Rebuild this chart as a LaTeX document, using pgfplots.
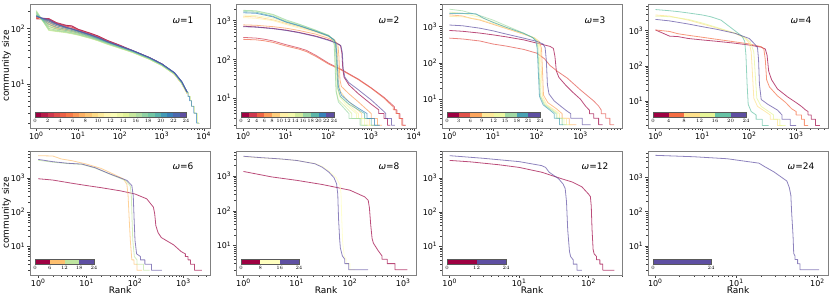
\documentclass[border=0pt]{standalone}
\usepackage{fontspec}
\setmainfont{DejaVu Sans}
\usepackage{pgfplots}
\pgfplotsset{compat=1.18}
\usepackage{pgfplotstable}

\definecolor{s0}{HTML}{9E0142}
\definecolor{s1}{HTML}{D53E4F}
\definecolor{s2}{HTML}{F46D43}
\definecolor{s3}{HTML}{FDAE61}
\definecolor{s4}{HTML}{FEE08B}
\definecolor{s5}{HTML}{FFFFBF}
\definecolor{s6}{HTML}{E6F598}
\definecolor{s7}{HTML}{ABDDA4}
\definecolor{s8}{HTML}{66C2A5}
\definecolor{s9}{HTML}{3288BD}
\definecolor{s10}{HTML}{5E4FA2}
\newcommand{\spcol}[2]{%
  \pgfmathsetmacro{\sppos}{#2}%
  \pgfmathtruncatemacro{\spk}{min(floor(\sppos),9)}%
  \pgfmathtruncatemacro{\spkk}{\spk+1}%
  \pgfmathsetmacro{\spf}{(\sppos-\spk)*100}%
  \colorlet{#1}{s\spkk!\spf!s\spk}}
\pgfplotsforeachungrouped \i in {0,...,23} {\spcol{a\i}{10*\i/23}}
\pgfplotsforeachungrouped \i in {0,...,11} {\spcol{b\i}{10*\i/11}}
\pgfplotsforeachungrouped \i in {0,...,7} {\spcol{c\i}{10*\i/7}}
\pgfplotsforeachungrouped \i in {0,...,5} {\spcol{d\i}{10*\i/5}}
\pgfplotsforeachungrouped \i in {0,...,3} {\spcol{e\i}{10*\i/3}}
\pgfplotsforeachungrouped \i in {0,...,2} {\spcol{f\i}{10*\i/2}}
\colorlet{g0}{s0}\colorlet{g1}{s10}\colorlet{h0}{s10}

\newcommand{\seg}[3]{\addplot[fill=#1, draw=none] coordinates {(#2,1) (#3,1)} \closedcycle;}

\newcommand{\mainaxis}[1]{\begin{axis}[scale only axis, width=180pt, height=124pt,
    xmode=log, ymode=log, anchor=south west,
    axis line style={gray}, tick align=outside, xtick pos=bottom, ytick pos=left,
    major tick length=3pt, minor tick length=1.8pt,
    tick style={gray!50!black, line width=0.4pt},
    xticklabel style={font=\fontsize{8}{9}\selectfont, inner sep=1pt},
    yticklabel style={font=\fontsize{8}{9}\selectfont, inner sep=1.5pt},
    xlabel style={font=\fontsize{9}{10}\selectfont, inner sep=1pt},
    ylabel style={font=\fontsize{9}{10}\selectfont},
    xlabel shift=-2pt, ylabel shift=-5pt,
    #1]}
\newcommand{\cbaxis}[1]{\begin{axis}[scale only axis, height=5pt,
    xmin=0, xmax=24, ymin=0, ymax=1,
    ytick=\empty, anchor=south west, xtick pos=bottom,
    tick align=outside, major tick length=1pt, minor tick num=0,
    xticklabel style={font=\fontsize{3.5}{4}\selectfont, inner sep=0.6pt},
    axis line style={gray!70!black, line width=0.3pt},
    tick style={gray, line width=0.2pt}, axis on top, #1]}
\tikzset{myom/.style={font=\fontsize{9}{10}\selectfont},
  myln/.style={line width=0.8pt, opacity=0.7, line join=round}}

\pgfplotstableread{
r y0 y1 y2 y3 y4 y5 y6 y7 y8 y9 y10 y11 y12 y13 y14 y15 y16 y17 y18 y19 y20 y21 y22 y23
1 155 150 148 152 158 160 162 165 170 175 180 185 190 195 200 210 205 195 185 175 170 168 165 162
2 150 146 150 145 140 135 128 122 118 112 108 104 100 96 93 92 95 100 108 118 128 135 140 145
3 128 124 126 122 118 112 106 102 100 97 95 93 91 90 89 88 90 93 98 105 112 118 120 122
5 115 113 110 108 104 100 96 93 91 90 89 88 87 86 85 84 86 88 92 97 102 104 105 106
7 110 112 106 105 100 96 92 89 87 86 85 84 83 82 81 80 82 84 88 92 96 98 98 99
10 96 97 94 92 90 88 85 83 81 80 79 78 78 77 76 76 77 79 82 85 88 90 90 91
20 81 82 79 78 77 75 72 71 70 69 68 68 67 67 66 66 67 68 70 72 74 76 76 77
30 73 73 71 70 69 67 65 64 63 62 62 61 61 60 60 60 61 62 63 65 66 68 68 69
50 61 60 60 59 58 57 56 55 55 54 54 53 53 52 52 52 53 54 55 56 57 58 58 58
100 50 49 49 48 48 47 46 46 45.5 45 45 45 44.5 44 44 44 44.5 45 46 47 47.5 48 48 48
200 40 40 39 39 39 38.5 38 38 37.5 37.5 37.5 37 37 37 37 37 37.5 38 38.5 39 39.5 40 40 40
500 30 30 29.5 29.5 29 29 28.5 28.5 28.3 28.2 28.2 28.1 28 28 28 28 28.3 28.6 29 29.5 29.8 30 30 30
1000 23 23 22.5 22.6 22.4 22.2 22 22 21.9 21.8 21.8 21.7 21.6 21.5 21.5 21.5 21.7 22 22.3 22.6 22.8 23 23 23
2000 15.5 15.4 15.3 15.2 15.2 15.1 15 15 15 15 15 15 15 15 15 15 15.2 15.4 15.6 15.8 15.9 16 16 16
3000 10.5 10.4 10.4 10.3 10.3 10.2 10.2 10.2 10.2 10.2 10.2 10.2 10.2 10.3 10.3 10.3 10.4 10.5 10.6 10.8 10.9 11 11 11
4000 7 7 7 6.9 6.9 6.9 6.8 6.8 6.8 6.8 6.8 6.9 6.9 7 7 7 7 7.1 7.1 7.2 7.2 7.2 7.2 7.2
}\tabA

\begin{document}
\begin{tikzpicture}
\useasboundingbox (0,0) rectangle (831pt,299pt);

% ---------------- omega = 1
\mainaxis{name=p1, at={(30pt,171pt)}, xmin=0.708, xmax=14125, ymin=1.62, ymax=275,
  xtick={1,10,100,1000,10000}, xticklabels={10\textsuperscript{0},10\textsuperscript{1},10\textsuperscript{2},10\textsuperscript{3},10\textsuperscript{4}},
  ytick={10,100}, yticklabels={10\textsuperscript{1},10\textsuperscript{2}},
  minor xtick={2,3,4,5,6,7,8,9,20,30,40,50,60,70,80,90,200,300,400,500,600,700,800,900,2000,3000,4000,5000,6000,7000,8000,9000},
  minor ytick={2,3,4,5,6,7,8,9,20,30,40,50,60,70,80,90,200},
  ylabel={community size}}
\pgfplotsinvokeforeach{0,...,23}{\addplot[myln, color=a#1] table[x=r, y=y#1]{\tabA};}
\addplot[myln, color=a14] coordinates {(4000,7)(4300,7)(4300,6)(4700,6)(4700,5)(5200,5)(5200,4)(6000,4)(6000,3)(6900,3)(6900,2)(8000,2)};
\addplot[myln, color=a21] coordinates {(4000,7.2)(4200,7)(4200,6)(4600,6)(4600,5)(5100,5)(5100,4)(5800,4)(5800,3)(6700,3)(6700,2)(7700,2)};
\node[myom] at (rel axis cs:0.85,0.87) {\textit{ω}=1};
\end{axis}
\cbaxis{at={(p1.south west)}, xshift=5pt, yshift=11pt, width=151pt, xtick={0,2,...,24}}
\seg{a0}{0}{1}\seg{a1}{1}{2}\seg{a2}{2}{3}\seg{a3}{3}{4}\seg{a4}{4}{5}\seg{a5}{5}{6}
\seg{a6}{6}{7}\seg{a7}{7}{8}\seg{a8}{8}{9}\seg{a9}{9}{10}\seg{a10}{10}{11}\seg{a11}{11}{12}
\seg{a12}{12}{13}\seg{a13}{13}{14}\seg{a14}{14}{15}\seg{a15}{15}{16}\seg{a16}{16}{17}\seg{a17}{17}{18}
\seg{a18}{18}{19}\seg{a19}{19}{20}\seg{a20}{20}{21}\seg{a21}{21}{22}\seg{a22}{22}{23}\seg{a23}{23}{24}
\end{axis}

% ---------------- omega = 2
\mainaxis{name=p2, at={(236pt,171pt)}, xmin=0.676, xmax=11220, ymin=1.70, ymax=2692,
  xtick={1,10,100,1000,10000}, xticklabels={10\textsuperscript{0},10\textsuperscript{1},10\textsuperscript{2},10\textsuperscript{3},10\textsuperscript{4}},
  ytick={10,100,1000}, yticklabels={10\textsuperscript{1},10\textsuperscript{2},10\textsuperscript{3}},
  minor xtick={2,3,4,5,6,7,8,9,20,30,40,50,60,70,80,90,200,300,400,500,600,700,800,900,2000,3000,4000,5000,6000,7000,8000,9000},
  minor ytick={2,3,4,5,6,7,8,9,20,30,40,50,60,70,80,90,200,300,400,500,600,700,800,900,2000}}
\addplot[myln, color=b0] coordinates {(1,720)(2,690)(5,630)(10,570)(20,500)(50,400)(100,320)(150,270)(190,230)(205,150)(215,60)(230,35)(300,22)(500,13)(1000,7)(1500,5)(1500,4)(2000,4)(2000,3)(2400,3)(2400,2)(2800,2)};
\addplot[myln, color=b1] coordinates {(1,370)(2,355)(3,335)(5,300)(10,240)(20,198)(30,172)(50,128)(100,80)(200,55)(500,31)(1000,18.5)(2000,10.5)(3000,7)(3500,6)(3500,5)(4000,5)(4000,4)(4700,4)(4700,3)(5500,3)(5500,2)(6500,2)};
\addplot[myln, color=b2] coordinates {(1,330)(2,320)(3,305)(5,275)(10,222)(20,185)(30,160)(50,120)(100,76)(200,53)(500,30)(1000,18)(2000,10)(3000,6.5)(3300,6)(3300,5)(3800,5)(3800,4)(4500,4)(4500,3)(5200,3)(5200,2)(6200,2)};
\addplot[myln, color=b3] coordinates {(1,780)(2,760)(5,700)(10,640)(20,560)(50,450)(100,350)(140,300)(165,250)(175,120)(185,30)(200,20)(300,13)(500,8)(800,5)(1000,4)(1000,3)(1400,3)(1400,2)(1800,2)};
\addplot[myln, color=b4] coordinates {(1,1300)(2,1250)(5,1050)(10,850)(20,700)(50,520)(100,400)(140,320)(155,250)(165,100)(175,25)(190,15)(250,10)(400,6)(600,4)(600,3)(900,3)(900,2)(1300,2)};
\addplot[myln, color=b5] coordinates {(1,1200)(2,1150)(5,1000)(10,800)(20,650)(50,500)(100,390)(130,320)(145,250)(155,80)(165,20)(180,12)(250,8)(400,5)(500,4)(500,3)(800,3)(800,2)(1200,2)};
\addplot[myln, color=b6] coordinates {(1,1400)(2,1350)(5,1150)(10,900)(20,720)(50,540)(100,410)(130,330)(145,250)(152,80)(160,18)(180,11)(250,7)(350,5)(450,4)(450,3)(700,3)(700,2)(1000,2)};
\addplot[myln, color=b7] coordinates {(1,1800)(2,1750)(5,1400)(10,1000)(20,800)(50,560)(100,420)(125,330)(138,250)(145,70)(152,15)(170,9)(250,6)(350,4)(350,3)(600,3)(600,2)(850,2)};
\addplot[myln, color=b8] coordinates {(1,1850)(2,1800)(5,1450)(10,1050)(20,820)(50,570)(100,420)(122,330)(135,250)(142,70)(150,15)(170,8)(250,5)(300,4)(300,3)(550,3)(550,2)(800,2)};
\addplot[myln, color=b9] coordinates {(1,1700)(2,1650)(5,1300)(10,950)(20,760)(50,540)(100,410)(130,330)(145,250)(155,70)(165,18)(190,11)(300,7)(500,5)(700,4)(700,3)(1000,3)(1000,2)(1500,2)};
\addplot[myln, color=b10] coordinates {(1,1600)(2,1550)(5,1250)(10,920)(20,740)(50,530)(100,400)(135,320)(150,250)(160,80)(170,20)(200,12)(300,8)(500,5.5)(800,4)(800,3)(1200,3)(1200,2)(1600,2)};
\addplot[myln, color=b11] coordinates {(1,700)(2,680)(5,620)(10,560)(20,490)(50,390)(100,310)(150,265)(195,225)(210,150)(220,60)(240,35)(300,25)(450,18)(1000,9)(1500,6)(2000,4.5)(2200,4)(2200,3)(3000,3)(3000,2)(3600,2)};
\node[myom] at (rel axis cs:0.85,0.87) {\textit{ω}=2};
\end{axis}
\cbaxis{at={(p2.south west)}, xshift=5pt, yshift=11pt, width=93pt, xtick={0,2,...,24}}
\seg{b0}{0}{2}\seg{b1}{2}{4}\seg{b2}{4}{6}\seg{b3}{6}{8}\seg{b4}{8}{10}\seg{b5}{10}{12}
\seg{b6}{12}{14}\seg{b7}{14}{16}\seg{b8}{16}{18}\seg{b9}{18}{20}\seg{b10}{20}{22}\seg{b11}{22}{24}
\end{axis}

% ---------------- omega = 3
\mainaxis{name=p3, at={(442pt,171pt)}, xmin=0.676, xmax=8913, ymin=1.62, ymax=4169,
  xtick={1,10,100,1000}, xticklabels={10\textsuperscript{0},10\textsuperscript{1},10\textsuperscript{2},10\textsuperscript{3}},
  ytick={10,100,1000}, yticklabels={10\textsuperscript{1},10\textsuperscript{2},10\textsuperscript{3}},
  minor xtick={2,3,4,5,6,7,8,9,20,30,40,50,60,70,80,90,200,300,400,500,600,700,800,900,2000,3000,4000,5000,6000,7000,8000},
  minor ytick={2,3,4,5,6,7,8,9,20,30,40,50,60,70,80,90,200,300,400,500,600,700,800,900,2000,3000,4000}}
\addplot[myln, color=c0] coordinates {(1,780)(2,740)(5,660)(10,590)(20,520)(50,430)(100,350)(200,285)(240,250)(260,150)(280,60)(320,40)(450,25)(650,16)(1000,10)(1300,6.5)(1600,5)(1600,4)(2000,4)(2000,3)(2600,3)(2600,2)(3200,2)};
\addplot[myln, color=c1] coordinates {(1,480)(2,455)(5,400)(10,330)(20,290)(50,235)(100,185)(150,130)(200,85)(300,58)(500,38)(1000,18)(2000,9)(2600,6.5)(3000,5)(3000,4)(3800,4)(3800,3)(4700,3)(4700,2)(5900,2)};
\addplot[myln, color=c2] coordinates {(1,2100)(2,1950)(3,1700)(5,1500)(10,1150)(20,880)(50,620)(90,480)(115,380)(128,250)(135,60)(142,13)(180,8)(280,5.5)(380,4)(380,3)(550,3)(550,2)(800,2)};
\addplot[myln, color=c3] coordinates {(1,1900)(2,1850)(5,1550)(10,1200)(20,900)(50,620)(90,480)(110,380)(120,250)(127,60)(135,12)(170,7)(260,5)(330,4)(330,3)(480,3)(480,2)(650,2)};
\addplot[myln, color=c4] coordinates {(1,2500)(2,2300)(5,1800)(10,1350)(20,950)(50,640)(85,500)(105,400)(112,250)(118,60)(125,12)(160,7)(240,5)(300,4)(300,3)(420,3)(420,2)(550,2)};
\addplot[myln, color=c5] coordinates {(1,3000)(2,2700)(5,2000)(10,1500)(20,1050)(50,660)(80,500)(100,400)(106,250)(112,60)(120,12)(150,7)(220,5)(280,4)(280,3)(380,3)(380,2)(480,2)};
\addplot[myln, color=c6] coordinates {(1,2300)(2,2300)(4,2250)(6,1700)(10,1300)(20,950)(50,650)(80,500)(95,400)(102,250)(108,60)(115,12)(140,7)(200,5)(250,4)(250,3)(330,3)(330,2)(400,2)};
\addplot[myln, color=c7] coordinates {(1,1100)(2,1050)(5,900)(10,760)(20,620)(50,480)(100,390)(140,330)(155,260)(165,120)(175,25)(190,14)(250,9)(350,6.5)(460,5)(600,4)(600,3)(1100,3)(1100,2)(1700,2)};
\node[myom] at (rel axis cs:0.85,0.87) {\textit{ω}=3};
\end{axis}
\cbaxis{at={(p3.south west)}, xshift=5pt, yshift=11pt, width=93pt, xtick={0,3,...,24}}
\seg{c0}{0}{3}\seg{c1}{3}{6}\seg{c2}{6}{9}\seg{c3}{9}{12}\seg{c4}{12}{15}\seg{c5}{15}{18}\seg{c6}{18}{21}\seg{c7}{21}{24}
\end{axis}

% ---------------- omega = 4
\mainaxis{name=p4, at={(648pt,171pt)}, xmin=0.692, xmax=4786, ymin=1.70, ymax=5754,
  xtick={1,10,100,1000}, xticklabels={10\textsuperscript{0},10\textsuperscript{1},10\textsuperscript{2},10\textsuperscript{3}},
  ytick={10,100,1000}, yticklabels={10\textsuperscript{1},10\textsuperscript{2},10\textsuperscript{3}},
  minor xtick={2,3,4,5,6,7,8,9,20,30,40,50,60,70,80,90,200,300,400,500,600,700,800,900,2000,3000,4000},
  minor ytick={2,3,4,5,6,7,8,9,20,30,40,50,60,70,80,90,200,300,400,500,600,700,800,900,2000,3000,4000,5000}}
\addplot[myln, color=d0] coordinates {(1,1050)(2,700)(3,680)(5,600)(10,545)(20,500)(50,440)(100,390)(180,340)(220,300)(240,200)(260,70)(300,40)(400,22)(660,13)(1000,9)(1300,7)(1600,5.5)(1800,5)(1800,4)(2100,4)(2100,3)(2600,3)(2600,2)(3200,2)};
\addplot[myln, color=d1] coordinates {(1,1050)(2,950)(3,820)(5,740)(10,650)(20,570)(50,480)(100,420)(180,350)(205,300)(220,150)(235,40)(270,25)(400,14)(600,9)(800,6)(1000,5)(1000,4)(1300,4)(1300,3)(1500,3)(1500,2)(1800,2)};
\addplot[myln, color=d2] coordinates {(1,2800)(2,2600)(5,2000)(10,1550)(20,1200)(50,840)(80,620)(100,450)(110,250)(117,60)(125,12)(150,7)(220,5)(280,4)(280,3)(400,3)(400,2)(500,2)};
\addplot[myln, color=d3] coordinates {(1,2600)(2,2500)(5,2100)(10,1650)(20,1250)(50,850)(80,650)(105,480)(125,250)(135,50)(145,12)(180,7)(260,5)(330,4)(330,3)(450,3)(450,2)(600,2)};
\addplot[myln, color=d4] coordinates {(1,4000)(2,3700)(3,3500)(5,3200)(10,2800)(15,2500)(25,2000)(47,1050)(70,700)(80,500)(85,200)(90,30)(95,8)(110,5)(140,4)(140,3)(190,3)(190,2)(260,2)};
\addplot[myln, color=d5] coordinates {(1,2100)(2,1900)(5,1550)(10,1300)(20,1100)(50,840)(100,600)(130,420)(150,330)(158,150)(165,30)(180,11)(250,8)(400,5.5)(500,4)(500,3)(750,3)(750,2)(1000,2)};
\node[myom] at (rel axis cs:0.85,0.87) {\textit{ω}=4};
\end{axis}
\cbaxis{at={(p4.south west)}, xshift=5pt, yshift=11pt, width=93pt, xtick={0,4,...,24}}
\seg{d0}{0}{4}\seg{d1}{4}{8}\seg{d2}{8}{12}\seg{d3}{12}{16}\seg{d4}{16}{20}\seg{d5}{20}{24}
\end{axis}

% ---------------- omega = 6
\mainaxis{name=p5, at={(30pt,24pt)}, xmin=0.676, xmax=3548, ymin=1.445, ymax=6166,
  xtick={1,10,100,1000}, xticklabels={10\textsuperscript{0},10\textsuperscript{1},10\textsuperscript{2},10\textsuperscript{3}},
  ytick={10,100,1000}, yticklabels={10\textsuperscript{1},10\textsuperscript{2},10\textsuperscript{3}},
  minor xtick={2,3,4,5,6,7,8,9,20,30,40,50,60,70,80,90,200,300,400,500,600,700,800,900,2000,3000},
  minor ytick={2,3,4,5,6,7,8,9,20,30,40,50,60,70,80,90,200,300,400,500,600,700,800,900,2000,3000,4000,5000,6000},
  ylabel={community size}, xlabel={Rank}}
\addplot[myln, color=e0] coordinates {(1,950)(2,870)(5,700)(10,600)(20,520)(50,420)(100,340)(175,245)(240,140)(255,90)(270,40)(300,25)(350,18)(630,11)(900,7)(1100,6)(1100,5)(1250,5)(1250,4)(1400,4)(1400,3)(1700,3)(1700,2)(2400,2)};
\addplot[myln, color=e1] coordinates {(1,4500)(2,4400)(3,3600)(5,3200)(10,2550)(20,1900)(30,1460)(58,935)(68,650)(72,300)(76,60)(80,15)(86,4)(95,4)(95,3)(110,3)(110,2)(140,2)};
\addplot[myln, color=e2] coordinates {(1,3300)(2,2900)(4,2650)(8,2500)(15,1950)(30,1300)(65,830)(80,580)(84,300)(87,60)(90,15)(97,5)(110,4)(110,3)(150,3)(150,2)(200,2)};
\addplot[myln, color=e3] coordinates {(1,3500)(2,3000)(4,2700)(8,2550)(15,2000)(30,1320)(68,850)(86,600)(92,300)(96,60)(100,15)(108,6)(130,5)(130,4)(160,4)(160,3)(220,3)(220,2)(360,2)};
\node[myom] at (rel axis cs:0.85,0.88) {\textit{ω}=6};
\end{axis}
\cbaxis{at={(p5.south west)}, xshift=5pt, yshift=11pt, width=59pt, xtick={0,6,...,24}}
\seg{e0}{0}{6}\seg{e1}{6}{12}\seg{e2}{12}{18}\seg{e3}{18}{24}
\end{axis}

% ---------------- omega = 8
\mainaxis{name=p6, at={(236pt,24pt)}, xmin=0.724, xmax=1738, ymin=1.41, ymax=5248,
  xtick={1,10,100,1000}, xticklabels={10\textsuperscript{0},10\textsuperscript{1},10\textsuperscript{2},10\textsuperscript{3}},
  ytick={10,100,1000}, yticklabels={10\textsuperscript{1},10\textsuperscript{2},10\textsuperscript{3}},
  minor xtick={2,3,4,5,6,7,8,9,20,30,40,50,60,70,80,90,200,300,400,500,600,700,800,900},
  minor ytick={2,3,4,5,6,7,8,9,20,30,40,50,60,70,80,90,200,300,400,500,600,700,800,900,2000,3000,4000,5000},
  xlabel={Rank}}
\addplot[myln, color=f0] coordinates {(1,1350)(2,1100)(3.4,940)(10,750)(30,570)(100,390)(190,250)(220,200)(232,120)(245,40)(260,16)(275,11.7)(340,7)(400,5)(400,4)(500,4)(500,3)(700,3)(700,2)(1200,2)};
\addplot[myln, color=f1] coordinates {(1,3600)(2,3350)(5,3050)(10,2800)(22,2300)(30,1900)(40,1400)(55,900)(65,550)(68,300)(70,60)(73,12)(78,5)(85,4)(85,3)(100,3)(100,2)(125,2)};
\addplot[myln, color=f2] coordinates {(1,3700)(2,3400)(5,3100)(10,2800)(22,2250)(30,1800)(40,1300)(50,900)(56,600)(59,300)(61,60)(64,15)(66,8.5)(72,5)(80,4)(80,3)(95,3)(95,2)(220,2)};
\node[myom] at (rel axis cs:0.85,0.88) {\textit{ω}=8};
\end{axis}
\cbaxis{at={(p6.south west)}, xshift=5pt, yshift=11pt, width=58pt, xtick={0,8,16,24}}
\seg{f0}{0}{8}\seg{f1}{8}{16}\seg{f2}{16}{24}
\end{axis}

% ---------------- omega = 12
\mainaxis{name=p7, at={(442pt,24pt)}, xmin=0.776, xmax=302, ymin=1.445, ymax=6026,
  xtick={1,10,100}, xticklabels={10\textsuperscript{0},10\textsuperscript{1},10\textsuperscript{2}},
  ytick={10,100,1000}, yticklabels={10\textsuperscript{1},10\textsuperscript{2},10\textsuperscript{3}},
  minor xtick={2,3,4,5,6,7,8,9,20,30,40,50,60,70,80,90,200,300},
  minor ytick={2,3,4,5,6,7,8,9,20,30,40,50,60,70,80,90,200,300,400,500,600,700,800,900,2000,3000,4000,5000,6000},
  xlabel={Rank}}
\addplot[myln, color=g0] coordinates {(1,3200)(2,2900)(5,2400)(10,2000)(21,1450)(41,930)(58,750)(80,540)(100,330)(106,280)(109,150)(112,30)(116,8)(120,6)(130,5)(130,4)(145,4)(145,3)(160,3)(160,2)(235,2)};
\addplot[myln, color=g1] coordinates {(1,4400)(3,3700)(10,2950)(21,2260)(24,2000)(27,1450)(37,930)(43,650)(46,480)(48,200)(50,30)(53,7)(55,5)(60,4)(60,3)(68,3)(68,2)(80,2)};
\node[myom] at (rel axis cs:0.85,0.88) {\textit{ω}=12};
\end{axis}
\cbaxis{at={(p7.south west)}, xshift=5pt, yshift=11pt, width=59pt, xtick={0,12,24}}
\seg{g0}{0}{12}\seg{g1}{12}{24}
\end{axis}

% ---------------- omega = 24
\mainaxis{name=p8, at={(648pt,24pt)}, xmin=0.813, xmax=135, ymin=1.41, ymax=5888,
  xtick={1,10,100}, xticklabels={10\textsuperscript{0},10\textsuperscript{1},10\textsuperscript{2}},
  ytick={10,100,1000}, yticklabels={10\textsuperscript{1},10\textsuperscript{2},10\textsuperscript{3}},
  minor xtick={2,3,4,5,6,7,8,9,20,30,40,50,60,70,80,90},
  minor ytick={2,3,4,5,6,7,8,9,20,30,40,50,60,70,80,90,200,300,400,500,600,700,800,900,2000,3000,4000,5000},
  xlabel={Rank}}
\addplot[myln, color=h0] coordinates {(1,4400)(3,4000)(7.7,3500)(19,2600)(22,2100)(29,1450)(42,780)(45,500)(47,300)(48,100)(50,20)(51,6)(53,5)(53,4)(57,4)(57,3)(61,3)(61,2)(105,2)};
\node[myom] at (rel axis cs:0.85,0.88) {\textit{ω}=24};
\end{axis}
\cbaxis{at={(p8.south west)}, xshift=5pt, yshift=11pt, width=58pt, xtick={0,24}}
\seg{h0}{0}{24}
\end{axis}
\end{tikzpicture}
\end{document}
